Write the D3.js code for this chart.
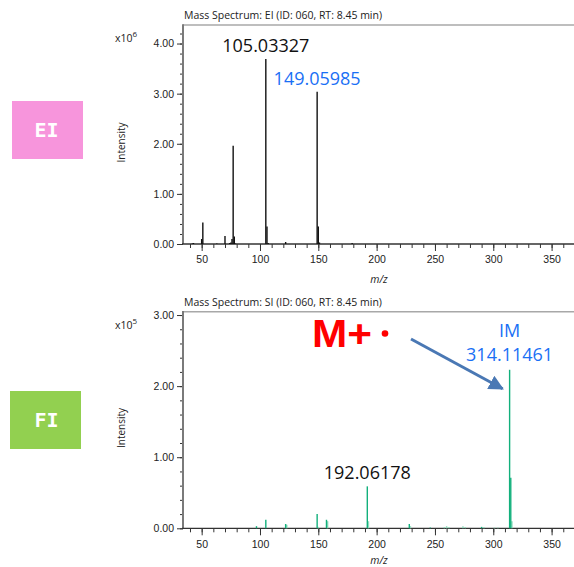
<!DOCTYPE html>
<html>
<head>
<meta charset="utf-8">
<script src="https://cdn.jsdelivr.net/npm/d3@7"></script>
<style>
  body { margin: 0; background: #fff; }
  svg { display: block; font-family: "Open Sans", "Noto Sans", sans-serif; }
  .tick text { font-size: 10.5px; fill: #222; }
  .tick line { stroke: #333; }
</style>
</head>
<body>
<svg id="chart" width="574" height="567"></svg>
<script>
// --- data --------------------------------------------------------------------
// EI spectrum, intensity in units of 1e6
const eiMz  = [42, 43, 50, 51, 63, 70, 74, 75, 76, 77, 78, 79, 105, 106, 107, 122, 149, 150, 151, 179];
const eiInt = [0.01, 0.02, 0.10, 0.43, 0.01, 0.16, 0.02, 0.03, 0.10, 1.96, 0.15, 0.01, 3.69, 0.35, 0.02, 0.04, 3.04, 0.35, 0.03, 0.02];

// FI spectrum, intensity in units of 1e5 (main peaks)
const fiMz  = [97, 105, 122, 149, 157, 192, 228, 246, 290, 314, 315];
const fiInt = [0.03, 0.12, 0.06, 0.20, 0.12, 0.59, 0.06, 0.01, 0.02, 2.23, 0.71];
// FI isotope / minor peaks (drawn lighter)
const fiIsoMz  = [123, 150, 158, 193, 229, 258, 260, 262, 274, 276, 292, 301, 304, 316];
const fiIsoInt = [0.05, 0.02, 0.10, 0.10, 0.03, 0.02, 0.03, 0.02, 0.03, 0.02, 0.02, 0.01, 0.01, 0.10];

const xMajor = [50, 100, 150, 200, 250, 300, 350];
const xMinor = d3.range(40, 370, 10);

// --- layout ------------------------------------------------------------------
const svg = d3.select('#chart');
const X0 = 183, X1 = 574;
const x = d3.scaleLinear().domain([34, 369.2]).range([X0, X1]);

const panels = [
  { key: 'EI', title: 'Mass Spectrum: EI (ID: 060, RT: 8.45 min)', exp: '6',
    top: 25, bottom: 244, yMax: 4.37, yMajor: [0, 1, 2, 3, 4], yMinorTop: 4.2,
    badge: { y: 101, color: '#f795dc' }, mzDy: 39 },
  { key: 'FI', title: 'Mass Spectrum: SI (ID: 060, RT: 8.45 min)', exp: '5',
    top: 311.7, bottom: 528.3, yMax: 3.047, yMajor: [0, 1, 2, 3], yMinorTop: 3.0,
    badge: { y: 391, color: '#92d050' }, mzDy: 36 }
];

panels.forEach(p => {
  p.y = d3.scaleLinear().domain([0, p.yMax]).range([p.bottom, p.top]);
  const g = svg.append('g');

  // badge
  g.append('rect').attr('x', p.key === 'EI' ? 12 : 10).attr('y', p.badge.y)
    .attr('width', 71).attr('height', 58).attr('fill', p.badge.color);
  g.append('text').attr('x', 46.5).attr('y', p.badge.y + 36)
    .attr('text-anchor', 'middle').attr('fill', '#fff')
    .style('font-family', '"DejaVu Sans Mono", monospace').style('font-weight', 'bold')
    .style('font-size', '20px').text(p.key);

  // title
  g.append('text').attr('x', X0 + 1).attr('y', p.top - 6)
    .style('font-size', '10.5px').attr('fill', '#222').text(p.title);

  // exponent
  const ex = g.append('text').attr('x', 115).attr('y', p.top + 17)
    .style('font-size', '10.5px').attr('fill', '#222');
  ex.append('tspan').text('x10');
  ex.append('tspan').attr('dy', -5).style('font-size', '8px').text(p.exp);

  // Intensity label
  g.append('text')
    .attr('transform', `translate(125,${(p.top + p.bottom) / 2 + 8}) rotate(-90)`)
    .attr('text-anchor', 'middle').style('font-size', '10px').attr('fill', '#222')
    .text('Intensity');

  // y axis: minor then major
  g.append('g').attr('transform', `translate(${X0},0)`)
    .call(d3.axisLeft(p.y).tickValues(d3.range(0, p.yMinorTop + 0.01, 0.2)).tickSize(3).tickFormat(''))
    .call(s => s.select('.domain').remove());
  g.append('g').attr('transform', `translate(${X0},0)`)
    .call(d3.axisLeft(p.y).tickValues(p.yMajor).tickSize(6).tickPadding(3).tickFormat(d3.format('.2f')))
    .call(s => s.select('.domain').remove());

  // x axis: minor then major
  g.append('g').attr('transform', `translate(0,${p.bottom})`)
    .call(d3.axisBottom(x).tickValues(xMinor).tickSize(4).tickFormat(''))
    .call(s => s.select('.domain').remove());
  g.append('g').attr('transform', `translate(0,${p.bottom})`)
    .call(d3.axisBottom(x).tickValues(xMajor).tickSize(7).tickPadding(5))
    .call(s => s.select('.domain').remove());

  g.append('text').attr('x', 379).attr('y', p.bottom + p.mzDy)
    .attr('text-anchor', 'middle').style('font-size', '10.5px').style('font-style', 'italic')
    .attr('fill', '#222').text('m/z');

  // frame
  g.append('line').attr('x1', X0).attr('x2', X1).attr('y1', p.top).attr('y2', p.top)
    .attr('stroke', '#a8a8a8').attr('stroke-width', 1.5);
  g.append('line').attr('x1', X0).attr('x2', X0).attr('y1', p.top - 0.7).attr('y2', p.bottom)
    .attr('stroke', '#7a7a7a').attr('stroke-width', 2);
  g.append('line').attr('x1', X0 - 1).attr('x2', X1).attr('y1', p.bottom).attr('y2', p.bottom)
    .attr('stroke', '#333').attr('stroke-width', 1.3);

  p.g = g;
});

// --- peaks -------------------------------------------------------------------
const ei = panels[0], fi = panels[1];

function sticks(panel, mz, ints, color, width) {
  panel.g.append('g').selectAll('line')
    .data(mz.map((m, i) => ({ m, v: ints[i] })))
    .join('line')
    .attr('x1', d => x(d.m)).attr('x2', d => x(d.m))
    .attr('y1', panel.y(0)).attr('y2', d => panel.y(d.v))
    .attr('stroke', color).attr('stroke-width', width);
}

sticks(ei, eiMz, eiInt, '#111', 1.4);
sticks(fi, fiIsoMz, fiIsoInt, '#8ddcbc', 1.4);
sticks(fi, fiMz, fiInt, '#12b07c', 1.4);

// --- annotations -------------------------------------------------------------
function label(panel, mz, v, txt, color, dy) {
  panel.g.append('text').attr('x', x(mz)).attr('y', panel.y(v) + dy)
    .attr('text-anchor', 'middle').style('font-size', '18px').attr('fill', color).text(txt);
}
label(ei, 105, 3.69, '105.03327', '#111', -7);
label(ei, 149, 3.04, '149.05985', '#1a6ff5', -7);
label(fi, 192, 0.59, '192.06178', '#111', -7);
label(fi, 314, 2.23, '314.11461', '#1a6ff5', -9);
label(fi, 314, 2.23, 'IM', '#1a6ff5', -33);

// M+· marker and arrow
const ann = fi.g.append('g');
ann.append('text').attr('x', 312).attr('y', 346.5)
  .attr('textLength', 60).attr('lengthAdjust', 'spacingAndGlyphs')
  .style('font-family', '"Liberation Sans", Arial, sans-serif').style('font-weight', 'bold')
  .style('font-size', '38px').attr('fill', '#f00').text('M+');
ann.append('circle').attr('cx', 385).attr('cy', 333.5).attr('r', 3.3).attr('fill', '#f00');

svg.append('defs').append('marker').attr('id', 'arr')
  .attr('viewBox', '0 0 10 10').attr('refX', 9).attr('refY', 5)
  .attr('markerWidth', 5).attr('markerHeight', 5).attr('orient', 'auto')
  .append('path').attr('d', 'M0,0 L10,5 L0,10 Z').attr('fill', '#4a78b4');
ann.append('line').attr('x1', 411).attr('y1', 339).attr('x2', x(314) - 7).attr('y2', fi.y(2.23) + 19)
  .attr('stroke', '#4a78b4').attr('stroke-width', 3).attr('marker-end', 'url(#arr)');
</script>
</body>
</html>
